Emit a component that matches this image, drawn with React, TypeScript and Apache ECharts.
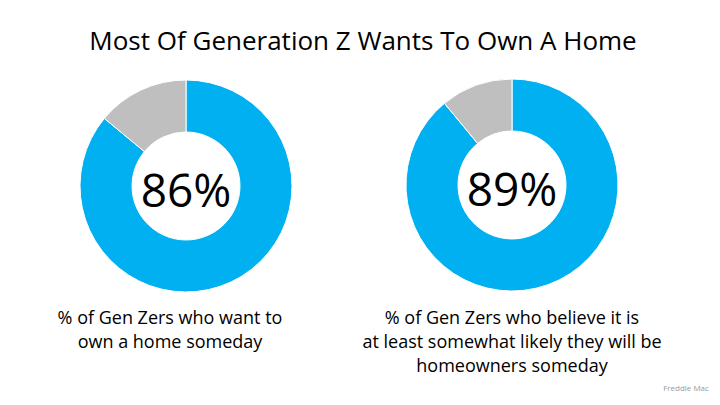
import React, { useEffect, useRef } from "react";
import * as echarts from "echarts";

const chartTitle = "Most Of Generation Z Wants To Own A Home";
const sliceNames = ["Yes", "Other"];
const wantToOwn = [86, 14];
const believeLikely = [89, 11];
const centerLabels = ["86%", "89%"];
const captions = [
  "% of Gen Zers who want to\nown a home someday",
  "% of Gen Zers who believe it is\nat least somewhat likely they will be\nhomeowners someday",
];
const sourceText = "Freddie Mac";

const BLUE = "#00B0F0";
const GRAY = "#BFBFBF";
const FONT = "'Open Sans', 'Noto Sans', sans-serif";

export default function App() {
  const ref = useRef<HTMLDivElement>(null);
  useEffect(() => {
    document.body.style.margin = "0";
    if (!ref.current) return;
    const chart = echarts.init(ref.current, undefined, { renderer: "svg" });
    const centers = [
      [186, 186],
      [512, 185],
    ];
    const datasets = [wantToOwn, believeLikely];
    const series = datasets.map((vals, i) => ({
      type: "pie",
      center: centers[i],
      radius: [54, 106],
      startAngle: 90,
      clockwise: true,
      silent: true,
      label: { show: false },
      labelLine: { show: false },
      itemStyle: { borderColor: "#fff", borderWidth: 1 },
      data: vals.map((v, j) => ({
        name: sliceNames[j],
        value: v,
        itemStyle: { color: j === 0 ? BLUE : GRAY },
      })),
    }));
    chart.setOption({
      animation: false,
      backgroundColor: "#fff",
      series,
      graphic: [
        {
          type: "text",
          x: 363,
          y: 40,
          style: {
            text: chartTitle,
            font: `26px ${FONT}`,
            fill: "#000",
            align: "center",
            verticalAlign: "middle",
          },
        },
        ...centerLabels.map((t, i) => ({
          type: "text",
          x: centers[i][0],
          y: centers[i][1] + 3,
          style: {
            text: t,
            font: `46px ${FONT}`,
            fill: "#000",
            align: "center",
            verticalAlign: "middle",
          },
        })),
        ...captions.map((t, i) => ({
          type: "text",
          x: centers[i][0] - (i === 0 ? 16 : 0),
          y: 305,
          style: {
            text: t,
            font: `18px ${FONT}`,
            lineHeight: 24,
            fill: "#000",
            align: "center",
            verticalAlign: "top",
          },
        })),
        {
          type: "text",
          x: 686,
          y: 387,
          style: {
            text: sourceText,
            font: `8px ${FONT}`,
            fill: "#999",
            align: "center",
            verticalAlign: "middle",
          },
        },
      ],
    });
    return () => chart.dispose();
  }, []);
  return <div ref={ref} style={{ width: 720, height: 405 }} />;
}
